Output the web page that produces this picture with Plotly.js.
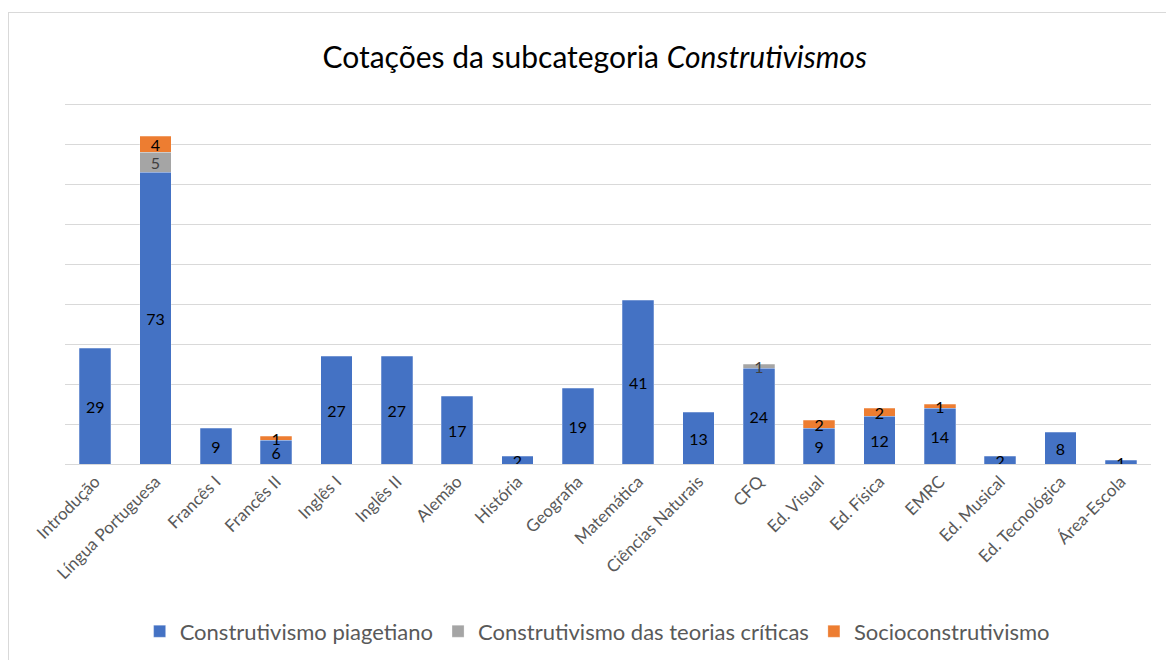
<!DOCTYPE html>
<html>
<head>
<meta charset="utf-8">
<script src="https://cdn.plot.ly/plotly-3.0.1.min.js"></script>
<style>
  body { margin: 0; overflow: hidden; background: #fff; }
  #frame { position: absolute; left: 8px; top: 12px; width: 1300px; height: 800px;
           border: 1px solid #d9d9d9; pointer-events: none; }
</style>
</head>
<body>
<div id="chart" style="width:1166px;height:660px;"></div>
<div id="frame"></div>
<script>
var disciplinas = ['Introdução', 'Língua Portuguesa', 'Francês I', 'Francês II', 'Inglês I', 'Inglês II',
  'Alemão', 'História', 'Geografia', 'Matemática', 'Ciências Naturais', 'CFQ', 'Ed. Visual',
  'Ed. Física', 'EMRC', 'Ed. Musical', 'Ed. Tecnológica', 'Área-Escola'];

// null = sem cotação (sem rótulo)
var piagetiano = [29, 73, 9, 6, 27, 27, 17, 2, 19, 41, 13, 24, 9, 12, 14, 2, 8, 1];
var teoriasCriticas = [null, 5, null, null, null, null, null, null, null, null, null, 1, null, null, null, null, null, null];
var socio = [null, 4, null, 1, null, null, null, null, null, null, null, null, 2, 2, 1, null, null, null];

function serie(nome, valores, cor, corTexto) {
  return {
    x: disciplinas,
    y: valores,
    name: nome,
    type: 'bar',
    marker: { color: cor, line: { color: 'rgba(255,255,255,0.5)', width: 0.5 } },
    text: valores.map(function (v) { return v == null ? '' : String(v); }),
    textposition: 'inside',
    insidetextanchor: 'middle',
    constraintext: 'none',
    textangle: 0,
    textfont: { family: 'Lato, sans-serif', size: 16, color: corTexto },
    hoverinfo: 'x+y+name'
  };
}

var data = [
  serie('Construtivismo piagetiano', piagetiano, '#4472C4', '#000'),
  serie('Construtivismo das teorias críticas', teoriasCriticas, '#A5A5A5', '#404040'),
  serie('Socioconstrutivismo', socio, '#ED7D31', '#000')
];

var layout = {
  width: 1166,
  height: 660,
  margin: { l: 65, r: 15, t: 100, b: 196, autoexpand: false },
  paper_bgcolor: '#fff',
  plot_bgcolor: '#fff',
  barmode: 'stack',
  bargap: 0.48,
  font: { family: 'Lato, sans-serif', color: '#595959' },
  title: {
    text: 'Cotações da subcategoria <i>Construtivismos</i>',
    x: 0.51, xanchor: 'center',
    y: 0.913, yanchor: 'middle',
    font: { size: 30, color: '#000' }
  },
  xaxis: {
    tickangle: -45,
    tickfont: { size: 17, color: '#595959' },
    showline: true,
    linecolor: '#d9d9d9',
    ticks: ''
  },
  yaxis: {
    range: [0, 91],
    dtick: 10,
    showticklabels: false,
    gridcolor: '#d9d9d9',
    zeroline: false,
    fixedrange: true
  },
  showlegend: true,
  legend: {
    orientation: 'h',
    x: 0.49, xanchor: 'center',
    y: -0.46, yanchor: 'middle',
    font: { size: 22, color: '#595959' },
    traceorder: 'normal'
  }
};

Plotly.newPlot('chart', data, layout, { displayModeBar: false });
</script>
</body>
</html>
